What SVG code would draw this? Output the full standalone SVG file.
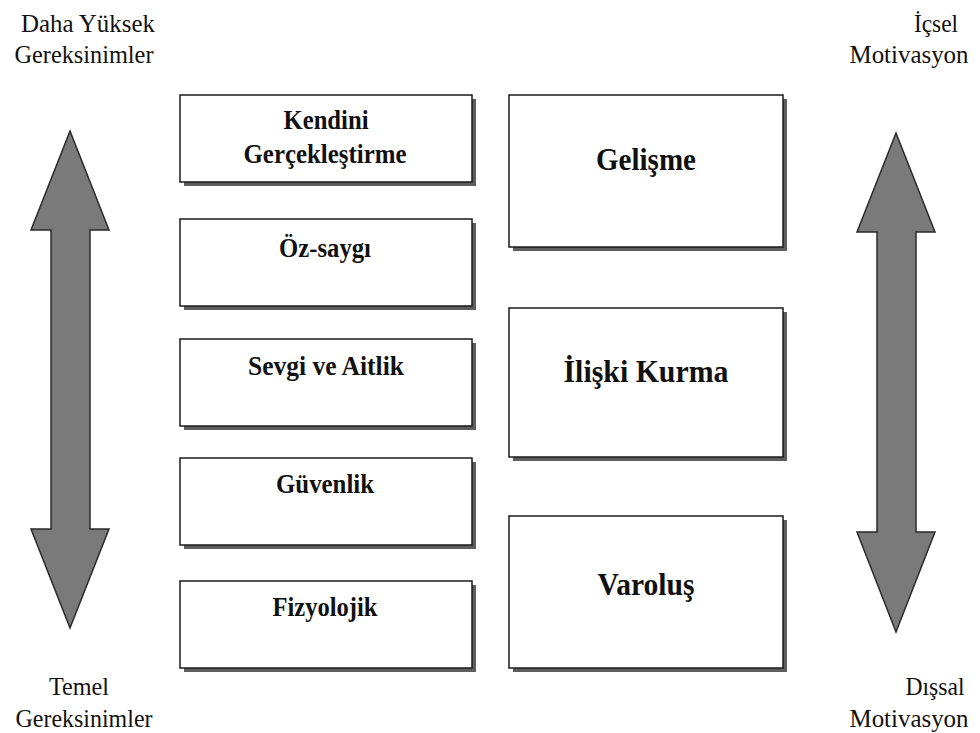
<svg xmlns="http://www.w3.org/2000/svg" width="980" height="733" viewBox="0 0 980 733">
<style>
.bg{fill:#ffffff}
.shadow{fill:#5e5e5e}
.box{fill:#ffffff;stroke:#1a1a1a;stroke-width:1.5}
.arrow{fill:#7a7a7a;stroke:#2a2a2a;stroke-width:1.5;stroke-linejoin:miter}
.lbl{font-family:"Liberation Serif","Times New Roman",serif;font-size:26px;fill:#111;text-anchor:middle}
.t1{font-family:"Liberation Serif","Times New Roman",serif;font-weight:bold;font-size:27px;fill:#111;text-anchor:middle}
.t2{font-family:"Liberation Serif","Times New Roman",serif;font-weight:bold;font-size:32px;fill:#111;text-anchor:middle}
</style>
<rect class="bg" x="0" y="0" width="980" height="733"/>

<g id="connectors">
  <polygon id="arrow-left" class="arrow" points="70,131 109,230 90,230 90,529 109,529 70,628 31,529 51,529 51,230 31,230"/>
  <polygon id="arrow-right" class="arrow" points="896,133 935,232 916,232 916,532 935,532 896,632 857,532 877,532 877,232 857,232"/>
</g>

<g id="label-top-left">
  <text class="lbl" x="88" y="32" textLength="134" lengthAdjust="spacingAndGlyphs">Daha Yüksek</text>
  <text class="lbl" x="84" y="63" textLength="139" lengthAdjust="spacingAndGlyphs">Gereksinimler</text>
</g>
<g id="label-bottom-left">
  <text class="lbl" x="79" y="695" textLength="60" lengthAdjust="spacingAndGlyphs">Temel</text>
  <text class="lbl" x="84" y="727" textLength="137" lengthAdjust="spacingAndGlyphs">Gereksinimler</text>
</g>
<g id="label-top-right">
  <text class="lbl" x="936" y="32" textLength="44" lengthAdjust="spacingAndGlyphs">İçsel</text>
  <text class="lbl" x="909" y="63" textLength="119" lengthAdjust="spacingAndGlyphs">Motivasyon</text>
</g>
<g id="label-bottom-right">
  <text class="lbl" x="935" y="695" textLength="59" lengthAdjust="spacingAndGlyphs">Dışsal</text>
  <text class="lbl" x="909" y="727" textLength="119" lengthAdjust="spacingAndGlyphs">Motivasyon</text>
</g>

<g id="node-kendini">
  <rect class="shadow" x="184" y="99" width="292" height="87"/>
  <rect class="box" x="180" y="95" width="292" height="87"/>
  <text class="t1" x="326" y="129" textLength="85" lengthAdjust="spacingAndGlyphs">Kendini</text>
  <text class="t1" x="325" y="163" textLength="163" lengthAdjust="spacingAndGlyphs">Gerçekleştirme</text>
</g>
<g id="node-ozsaygi">
  <rect class="shadow" x="184" y="223" width="292" height="87"/>
  <rect class="box" x="180" y="219" width="292" height="87"/>
  <text class="t1" x="325" y="257" textLength="92" lengthAdjust="spacingAndGlyphs">Öz-saygı</text>
</g>
<g id="node-sevgi">
  <rect class="shadow" x="184" y="343" width="292" height="87"/>
  <rect class="box" x="180" y="339" width="292" height="87"/>
  <text class="t1" x="326" y="375" textLength="156" lengthAdjust="spacingAndGlyphs">Sevgi ve Aitlik</text>
</g>
<g id="node-guvenlik">
  <rect class="shadow" x="184" y="462" width="292" height="87"/>
  <rect class="box" x="180" y="458" width="292" height="87"/>
  <text class="t1" x="325" y="493" textLength="98" lengthAdjust="spacingAndGlyphs">Güvenlik</text>
</g>
<g id="node-fizyolojik">
  <rect class="shadow" x="184" y="585" width="292" height="87"/>
  <rect class="box" x="180" y="581" width="292" height="87"/>
  <text class="t1" x="325" y="616" textLength="105" lengthAdjust="spacingAndGlyphs">Fizyolojik</text>
</g>

<g id="node-gelisme">
  <rect class="shadow" x="513" y="99" width="274" height="152"/>
  <rect class="box" x="509" y="95" width="274" height="152"/>
  <text class="t2" x="646" y="170" textLength="100" lengthAdjust="spacingAndGlyphs">Gelişme</text>
</g>
<g id="node-iliski">
  <rect class="shadow" x="513" y="312" width="274" height="149"/>
  <rect class="box" x="509" y="308" width="274" height="149"/>
  <text class="t2" x="646" y="382" textLength="165" lengthAdjust="spacingAndGlyphs">İlişki Kurma</text>
</g>
<g id="node-varolus">
  <rect class="shadow" x="513" y="520" width="274" height="152"/>
  <rect class="box" x="509" y="516" width="274" height="152"/>
  <text class="t2" x="646" y="595" textLength="97" lengthAdjust="spacingAndGlyphs">Varoluş</text>
</g>
</svg>
